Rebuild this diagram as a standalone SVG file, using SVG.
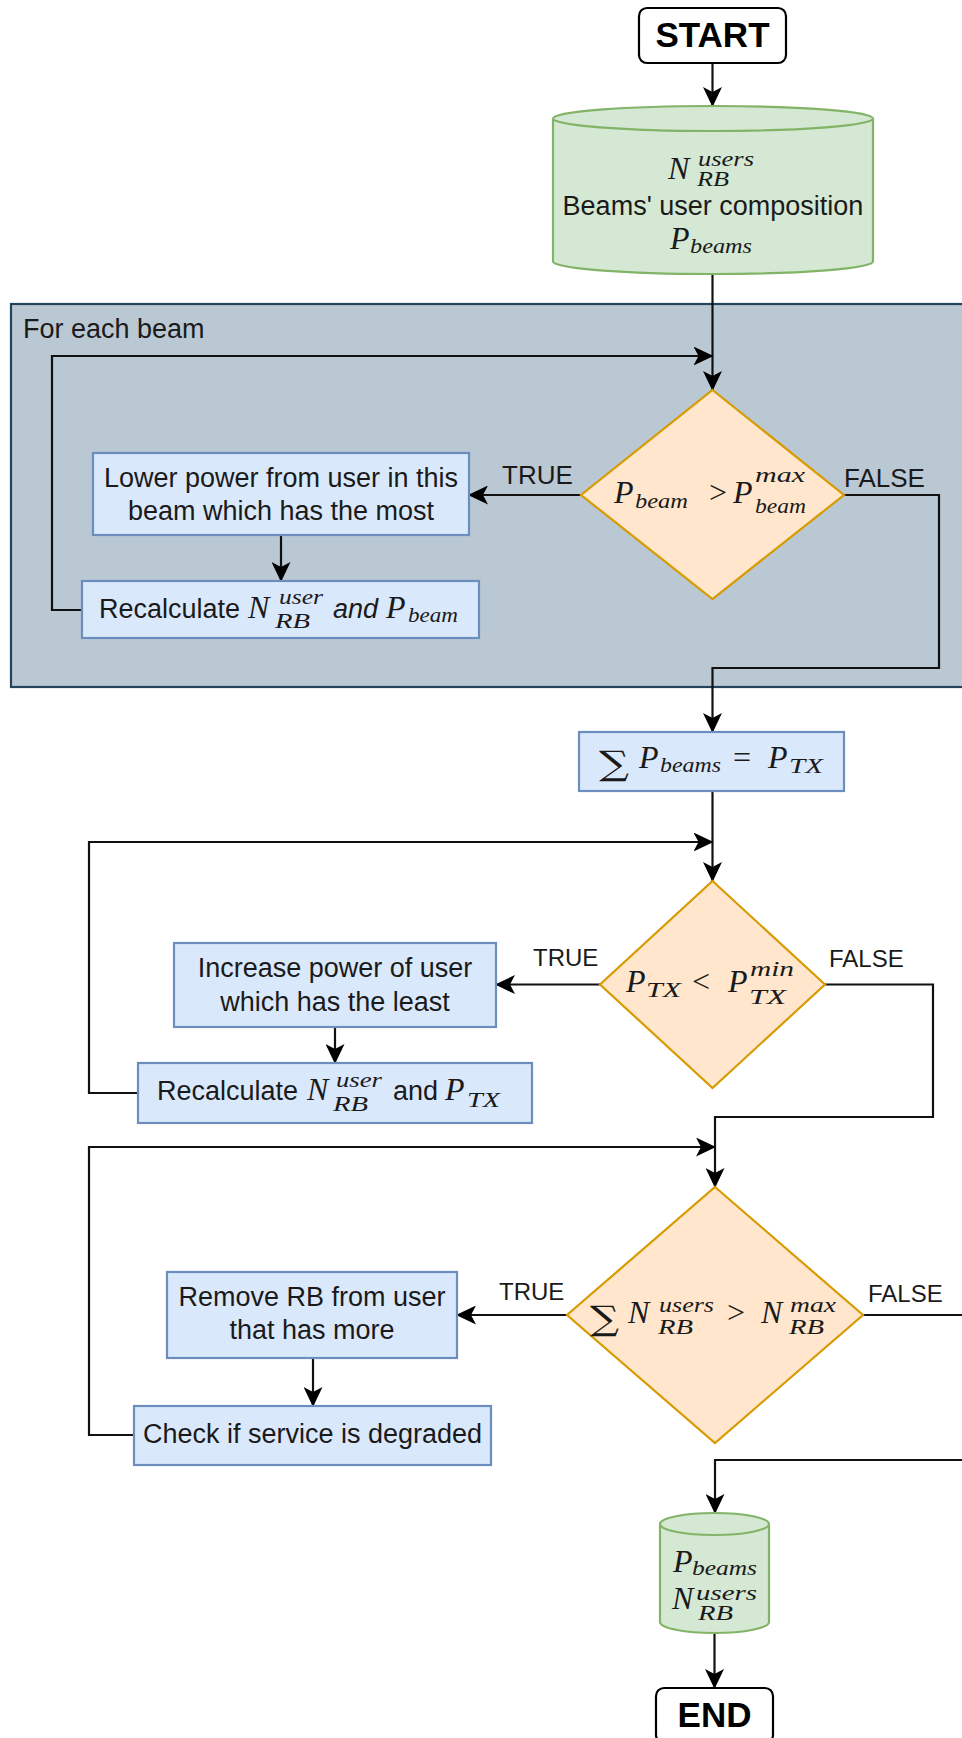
<svg xmlns="http://www.w3.org/2000/svg" width="962" height="1738" viewBox="0 0 962 1738">
  <defs>
    <marker id="arrow" markerUnits="userSpaceOnUse" markerWidth="20" markerHeight="19" refX="19" refY="9.5" orient="auto">
      <path d="M0,0 L20,9.5 L0,19 L5,9.5 Z" fill="#000"/>
    </marker>
    <style>
      .t  { font-family: "Liberation Sans", Arial, sans-serif; font-size: 27px; fill: #1a1a1a; }
      .c  { text-anchor: middle; }
      .b  { font-weight: bold; font-size: 35px; fill: #000; }
      .lb { font-family: "Liberation Sans", Arial, sans-serif; fill: #1a1a1a; }
      .mx { font-family: "Liberation Serif", "DejaVu Serif", serif; fill: #1a1a1a; }
      .m  { font-style: italic; font-size: 32px; }
      .ms { font-style: italic; font-size: 20px; }
      .mr { font-style: normal; font-size: 32px; }
      .sum { font-family: "DejaVu Serif", "Liberation Serif", serif; font-style: normal; font-size: 34px; }
      .it { font-family: "Liberation Sans", Arial, sans-serif; font-style: italic; font-size: 27px; }
      .box { fill: #dae8fc; stroke: #6c8ebf; stroke-width: 2.2; }
      .dec { fill: #ffe6cc; stroke: #d79b00; stroke-width: 2.2; }
      .db  { fill: #d5e8d4; stroke: #82b366; stroke-width: 2.2; }
      .term { fill: #fff; stroke: #000; stroke-width: 2.2; }
      .edge { fill: none; stroke: #111; stroke-width: 2.2; }
      .arr { marker-end: url(#arrow); }
    </style>
  </defs>

  <rect width="962" height="1738" fill="#fff"/>

  <!-- loop container -->
  <g id="for-each-beam">
    <rect x="11" y="304" width="980" height="383" fill="#bac8d3" stroke="#23445d" stroke-width="2.2"/>
    <text class="t" x="23" y="338">For each beam</text>
  </g>

  <!-- connectors -->
  <g id="connectors">
    <path class="edge arr" d="M712.5,63 V106"/>
    <path class="edge arr" d="M712.5,274 V390"/>
    <path class="edge arr" d="M82,610 H52 V356 H712.5"/>
    <path class="edge arr" d="M581,495 H469"/>
    <path class="edge arr" d="M281,535 V581"/>
    <path class="edge arr" d="M844,495 H939 V668 H712.5 V732"/>
    <path class="edge arr" d="M712.5,791 V881"/>
    <path class="edge arr" d="M138,1093 H89 V842 H712.5"/>
    <path class="edge arr" d="M600,984.5 H496"/>
    <path class="edge arr" d="M335,1027 V1063"/>
    <path class="edge arr" d="M825,984.5 H933 V1117 H715 V1187"/>
    <path class="edge arr" d="M134,1435 H89 V1147 H715"/>
    <path class="edge arr" d="M567,1315 H457"/>
    <path class="edge arr" d="M313,1358 V1406"/>
    <path class="edge arr" d="M863,1315 H975 V1460 H715 V1513"/>
    <path class="edge arr" d="M714.5,1633 V1688"/>
    <text class="lb" x="502" y="484" font-size="26">TRUE</text>
    <text class="lb" x="844" y="487" font-size="26">FALSE</text>
    <text class="lb" x="533" y="966" font-size="24">TRUE</text>
    <text class="lb" x="829" y="967" font-size="24">FALSE</text>
    <text class="lb" x="499" y="1300" font-size="24">TRUE</text>
    <text class="lb" x="868" y="1302" font-size="24">FALSE</text>
  </g>

  <g id="start">
    <rect class="term" x="639" y="8" width="147" height="55" rx="8"/>
    <text class="t b c" x="712.5" y="47">START</text>
  </g>

  <g id="input-data">
    <path class="db" d="M553,118.5 A160,12.5 0 0,1 873,118.5 V261.5 A160,12.5 0 0,1 553,261.5 Z"/>
    <path class="db" d="M553,118.5 A160,12.5 0 0,0 873,118.5" fill="none"/>
    <text class="mx"><tspan class="m" x="668" y="179">N</tspan><tspan class="ms" x="698" y="166" textLength="56" lengthAdjust="spacingAndGlyphs">users</tspan><tspan class="ms" x="697" y="186" textLength="32" lengthAdjust="spacingAndGlyphs">RB</tspan></text>
    <text class="t c" x="713" y="215">Beams' user composition</text>
    <text class="mx"><tspan class="m" x="670" y="249">P</tspan><tspan class="ms" x="690" y="253" textLength="62" lengthAdjust="spacingAndGlyphs">beams</tspan></text>
  </g>

  <g id="check-beam-power">
    <polygon class="dec" points="712.5,390 844,495 712.5,599 581,495"/>
    <text class="mx"><tspan class="m" x="614" y="503">P</tspan><tspan class="ms" x="635" y="508" textLength="53" lengthAdjust="spacingAndGlyphs">beam</tspan><tspan class="mr" x="709" y="503">&gt;</tspan><tspan class="m" x="733" y="503">P</tspan><tspan class="ms" x="755" y="482" textLength="50" lengthAdjust="spacingAndGlyphs">max</tspan><tspan class="ms" x="755" y="513" textLength="51" lengthAdjust="spacingAndGlyphs">beam</tspan></text>
  </g>

  <g id="lower-power">
    <rect class="box" x="93" y="453" width="376" height="82"/>
    <text class="t c" x="281" y="487">Lower power from user in this</text>
    <text class="t c" x="281" y="520">beam which has the most</text>
  </g>

  <g id="recalc-beam">
    <rect class="box" x="82" y="581" width="397" height="57"/>
    <text class="t" x="99" y="618">Recalculate</text>
    <text class="mx"><tspan class="m" x="248" y="618">N</tspan><tspan class="ms" x="279" y="604" textLength="44" lengthAdjust="spacingAndGlyphs">user</tspan><tspan class="ms" x="275" y="628" textLength="35" lengthAdjust="spacingAndGlyphs">RB</tspan><tspan class="it" x="333" y="618">and</tspan><tspan class="m" x="386" y="618">P</tspan><tspan class="ms" x="408" y="622" textLength="50" lengthAdjust="spacingAndGlyphs">beam</tspan></text>
  </g>

  <g id="sum-power">
    <rect class="box" x="579" y="732" width="265" height="59"/>
    <text class="mx"><tspan class="sum" x="599" y="775" textLength="30" lengthAdjust="spacingAndGlyphs">∑</tspan><tspan class="m" x="639" y="768">P</tspan><tspan class="ms" x="660" y="772" textLength="61" lengthAdjust="spacingAndGlyphs">beams</tspan><tspan class="mr" x="733" y="768">=</tspan><tspan class="m" x="768" y="768">P</tspan><tspan class="ms" x="789" y="773" textLength="34" lengthAdjust="spacingAndGlyphs">TX</tspan></text>
  </g>

  <g id="check-min-power">
    <polygon class="dec" points="712.5,881 825,984.5 712.5,1088 600,984.5"/>
    <text class="mx"><tspan class="m" x="626" y="992">P</tspan><tspan class="ms" x="646" y="997" textLength="35" lengthAdjust="spacingAndGlyphs">TX</tspan><tspan class="mr" x="692" y="992">&lt;</tspan><tspan class="m" x="728" y="992">P</tspan><tspan class="ms" x="750" y="976" textLength="44" lengthAdjust="spacingAndGlyphs">min</tspan><tspan class="ms" x="749" y="1004" textLength="37" lengthAdjust="spacingAndGlyphs">TX</tspan></text>
  </g>

  <g id="increase-power">
    <rect class="box" x="174" y="943" width="322" height="84"/>
    <text class="t c" x="335" y="977">Increase power of user</text>
    <text class="t c" x="335" y="1011">which has the least</text>
  </g>

  <g id="recalc-tx">
    <rect class="box" x="138" y="1063" width="394" height="60"/>
    <text class="t" x="157" y="1100">Recalculate</text>
    <text class="mx"><tspan class="m" x="307" y="1100">N</tspan><tspan class="ms" x="336" y="1087" textLength="46" lengthAdjust="spacingAndGlyphs">user</tspan><tspan class="ms" x="333" y="1111" textLength="35" lengthAdjust="spacingAndGlyphs">RB</tspan><tspan class="t" x="393" y="1100">and</tspan><tspan class="m" x="445" y="1100">P</tspan><tspan class="ms" x="467" y="1107" textLength="33" lengthAdjust="spacingAndGlyphs">TX</tspan></text>
  </g>

  <g id="check-rb-count">
    <polygon class="dec" points="715,1187 863,1315 715,1443 567,1315"/>
    <text class="mx"><tspan class="sum" x="590" y="1330" textLength="29" lengthAdjust="spacingAndGlyphs">∑</tspan><tspan class="m" x="628" y="1323">N</tspan><tspan class="ms" x="659" y="1312" textLength="55" lengthAdjust="spacingAndGlyphs">users</tspan><tspan class="ms" x="658" y="1334" textLength="35" lengthAdjust="spacingAndGlyphs">RB</tspan><tspan class="mr" x="727" y="1323">&gt;</tspan><tspan class="m" x="761" y="1323">N</tspan><tspan class="ms" x="790" y="1312" textLength="46" lengthAdjust="spacingAndGlyphs">max</tspan><tspan class="ms" x="789" y="1334" textLength="35" lengthAdjust="spacingAndGlyphs">RB</tspan></text>
  </g>

  <g id="remove-rb">
    <rect class="box" x="167" y="1272" width="290" height="86"/>
    <text class="t c" x="312" y="1306">Remove RB from user</text>
    <text class="t c" x="312" y="1339">that has more</text>
  </g>

  <g id="check-service">
    <rect class="box" x="134" y="1406" width="357" height="59"/>
    <text class="t c" x="312.5" y="1443">Check if service is degraded</text>
  </g>

  <g id="output-data">
    <path class="db" d="M660,1524 A54.5,11 0 0,1 769,1524 V1622 A54.5,11 0 0,1 660,1622 Z"/>
    <path class="db" d="M660,1524 A54.5,11 0 0,0 769,1524" fill="none"/>
    <text class="mx"><tspan class="m" x="673" y="1572">P</tspan><tspan class="ms" x="692" y="1575" textLength="65" lengthAdjust="spacingAndGlyphs">beams</tspan></text>
    <text class="mx"><tspan class="m" x="672" y="1609">N</tspan><tspan class="ms" x="696" y="1600" textLength="61" lengthAdjust="spacingAndGlyphs">users</tspan><tspan class="ms" x="698" y="1620" textLength="35" lengthAdjust="spacingAndGlyphs">RB</tspan></text>
  </g>

  <g id="end">
    <rect class="term" x="656" y="1688" width="117" height="55" rx="8"/>
    <text class="t b c" x="714.5" y="1727">END</text>
  </g>
</svg>
